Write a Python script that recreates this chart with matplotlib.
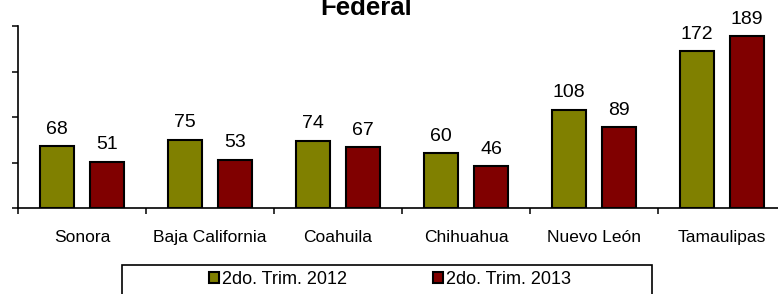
import matplotlib
matplotlib.use("Agg")
import matplotlib.pyplot as plt
from matplotlib.patches import Rectangle, Patch
import numpy as np

plt.rcParams['font.family'] = ['Liberation Sans', 'DejaVu Sans']

estados = ['Sonora', 'Baja California', 'Coahuila', 'Chihuahua', 'Nuevo León', 'Tamaulipas']
trim_2012 = [68, 75, 74, 60, 108, 172]
trim_2013 = [51, 53, 67, 46, 89, 189]
series_names = ['2do. Trim. 2012', '2do. Trim. 2013']
colores = ['#808000', '#800000']

W, H = 778, 294
fig = plt.figure(figsize=(W / 100, H / 100), dpi=100)
ax = fig.add_axes([18 / W, 86 / H, 768 / W, 182 / H])

x = np.arange(len(estados))
ancho = 0.27
off = 0.197
b1 = ax.bar(x - off, trim_2012, ancho, color=colores[0], edgecolor='black', linewidth=1.5)
b2 = ax.bar(x + off, trim_2013, ancho, color=colores[1], edgecolor='black', linewidth=1.5)

for bars, vals in ((b1, trim_2012), (b2, trim_2013)):
    for rect, v in zip(bars, vals):
        ax.annotate(str(v), (rect.get_x() + rect.get_width() / 2, rect.get_height()),
                    xytext=(0, 6), textcoords='offset points',
                    ha='center', va='bottom', fontsize=14)

ax.set_xlim(-0.5, len(estados) - 0.5)
ax.set_ylim(0, 200)
ax.set_yticks([0, 50, 100, 150, 200])
ax.set_yticklabels([])
ax.tick_params(axis='y', direction='out', length=4, width=1.1)

ax.set_xticks(x)
ax.set_xticklabels(estados, fontsize=12.5)
ax.set_xticks(np.arange(-0.5, len(estados), 1), minor=True)
ax.tick_params(axis='x', which='major', length=0, pad=16)
ax.tick_params(axis='x', which='minor', direction='out', length=4, width=1.1)

for s in ('top', 'right'):
    ax.spines[s].set_visible(False)
ax.spines['left'].set_linewidth(1.2)
ax.spines['bottom'].set_linewidth(1.2)

fig.text(366 / W, 1 - 15 / H, 'Federal', fontsize=18.5, fontweight='bold',
         ha='center', va='baseline')

# legend box
fig.patches.append(Rectangle((122 / W, -0.1), 530 / W, 0.1 + 29 / H,
                             transform=fig.transFigure, fill=False,
                             edgecolor='black', linewidth=1.2))
handles = [Patch(facecolor=c, edgecolor='black', linewidth=1.5) for c in colores]
fig.legend(handles, series_names, loc='center', bbox_to_anchor=(390 / W, 1 - 279 / H),
           ncol=2, frameon=False, fontsize=13, handlelength=0.55, handleheight=0.55,
           handletextpad=0.15, columnspacing=4.8, borderpad=0)

fig.savefig('out.png', dpi=100)
